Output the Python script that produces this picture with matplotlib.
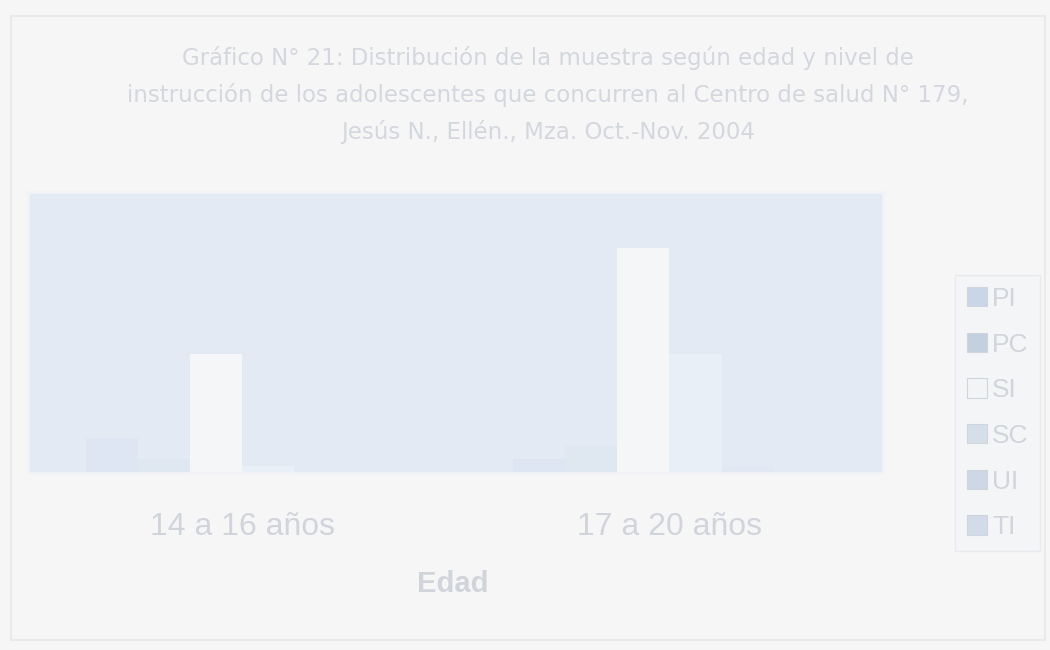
import numpy as np
import matplotlib
matplotlib.use("Agg")
import matplotlib.pyplot as plt
from matplotlib.patches import Rectangle

# grupos de edad y niveles de instruccion
edades = ["14 a 16 años", "17 a 20 años"]
niveles = ["PI", "PC", "SI", "SC", "UI", "TI"]
PI = [5, 2]
PC = [2, 4]
SI = [17, 32]
SC = [1, 17]
UI = [0, 1]
TI = [0, 0]
valores = [PI, PC, SI, SC, UI, TI]

colores = ["#dde6f2", "#dfe7f1", "#f5f6f8", "#e9eff6", "#e0e8f3", "#e1e8f2"]
leg_colores = ["#c9d6e8", "#c3d0df", "#f3f4f6", "#d6dfe9", "#cdd7e6", "#d2dbe7"]
texto = "#d1d5db"

fig = plt.figure(figsize=(10.5, 6.5), dpi=100, facecolor="#f6f6f7")
ax = fig.add_axes([0.027, 0.272, 0.814, 0.433])
ax.set_facecolor("#e3eaf4")

x = np.arange(len(edades))
w = 0.122
for i, (nivel, vals) in enumerate(zip(niveles, valores)):
    ax.bar(x + (i - 3) * w, vals, w, align="edge", color=colores[i],
           edgecolor="none", label=nivel)

ax.set_xlim(-0.5, 1.5)
ax.set_ylim(0, 40)
ax.set_yticks([])
ax.set_xticks(x)
ax.set_xticklabels(edades, fontsize=23, color=texto, family="Liberation Sans")
ax.tick_params(axis="x", length=0, pad=28)
for s in ax.spines.values():
    s.set_color("#f1f3f6")
    s.set_linewidth(2)

ax.set_xlabel("Edad", fontsize=21, fontweight="bold", color=texto,
              family="Liberation Sans")
ax.xaxis.set_label_coords(0.497, -0.345)

titulo = ("Gráfico N° 21: Distribución de la muestra según edad y nivel de\n"
          "instrucción de los adolescentes que concurren al Centro de salud N° 179,\n"
          "Jesús N., Ellén., Mza. Oct.-Nov. 2004")
fig.text(0.522, 0.93, titulo, ha="center", va="top", fontsize=16.5,
         color="#d4d7dd", family="DejaVu Sans", linespacing=1.7)

# leyenda
handles = [Rectangle((0, 0), 1, 1, facecolor=leg_colores[i],
                     edgecolor="#cfd5dd", linewidth=0.8) for i in range(6)]
leg = fig.legend(handles, niveles, loc="upper left", bbox_to_anchor=(0.897, 0.597),
                 frameon=True, handlelength=0.75, handleheight=0.75,
                 handletextpad=0.2, labelspacing=0.82, borderpad=0.45,
                 prop={"family": "Liberation Sans", "size": 19})
leg.get_frame().set_facecolor("#f4f5f7")
leg.get_frame().set_edgecolor("#e6e8ec")
leg.get_frame().set_boxstyle("square", pad=0)
for t in leg.get_texts():
    t.set_color(texto)

# marco exterior
fig.patches.append(Rectangle((0.01, 0.015), 0.985, 0.96, transform=fig.transFigure,
                             fill=False, edgecolor="#e8eaed", linewidth=1.5))

fig.savefig("out.png", dpi=100, facecolor=fig.get_facecolor())
